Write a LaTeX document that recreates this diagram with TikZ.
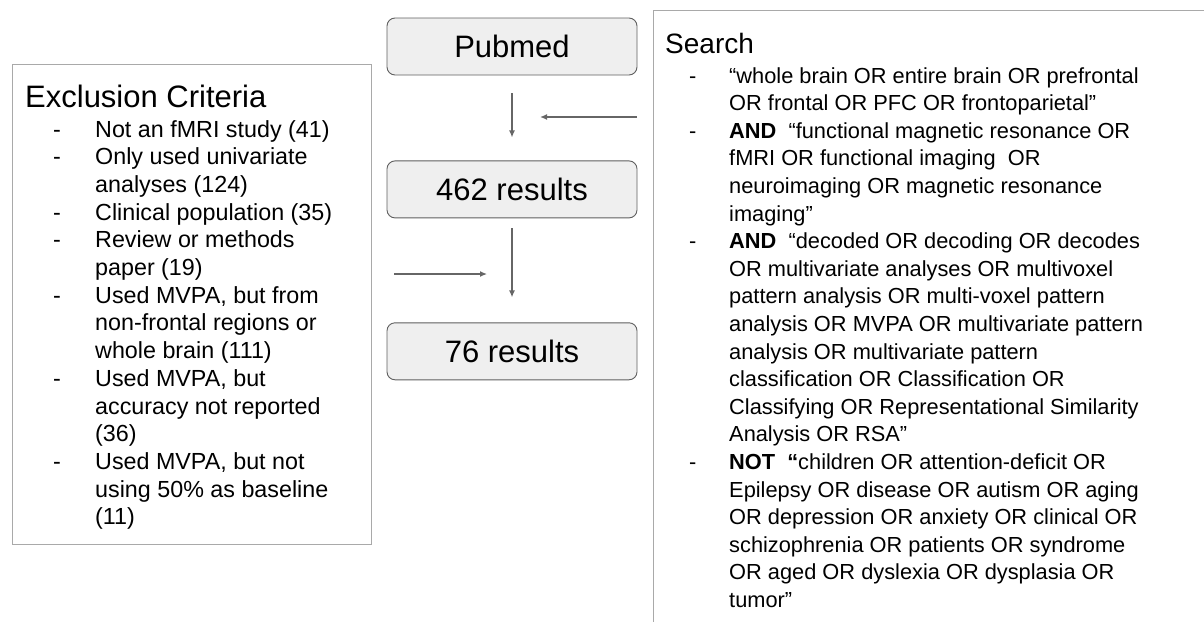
\documentclass[tikz,border=0pt]{standalone}
\usepackage{fontspec}
\setmainfont{Liberation Sans}
\usetikzlibrary{arrows.meta,positioning}

\definecolor{stagefill}{HTML}{EFEFEF}
\definecolor{stageedge}{HTML}{5F5F5F}
\definecolor{flowgray}{HTML}{666666}
\definecolor{framegray}{HTML}{A9A9A9}

\newcommand{\headfont}{\fontsize{31}{37}\selectfont}
\newcommand{\searchhead}{\fontsize{28}{34}\selectfont}
\newcommand{\exclfont}{\fontsize{23.3}{27.7}\selectfont}
\newcommand{\searchfont}{\fontsize{21.8}{27.6}\selectfont}

\begin{document}
\begin{tikzpicture}[x=1pt, y=-1pt,
			stage/.style={rectangle, rounded corners=8pt, draw=stageedge, fill=stagefill, line width=0.9pt, minimum width=250pt, minimum height=57pt, font=\headfont},
			frame/.style={draw=framegray, line width=1pt},
			flow/.style={-{Latex[length=7pt,width=6pt]}, draw=flowgray, line width=1.3pt}
		]
		\clip (0,0) rectangle (1204,621);

		% Stages
		\node[stage] (pubmed) at (512,46.5) {Pubmed};
		\node[stage, below=85pt of pubmed] (res462) {462 results};
		\node[stage, below=104pt of res462] (res76) {76 results};

		% Frames
		\draw[frame] (12,64) rectangle (371,544);
		\draw[frame] (653,10) rectangle (1230,660);

		% Exclusion Criteria
		\node[anchor=base west, font=\headfont, inner sep=0pt] (excltitle) at (25,107) {Exclusion Criteria};
		\node[anchor=base west, font=\exclfont, inner sep=0pt] (excllist) at (53,137) {%
			\begin{tabular}[t]{@{}p{42pt}@{}l@{}}
				- & Not an fMRI study (41)\\
				- & Only used univariate\\
				  & analyses (124)\\
				- & Clinical population (35)\\
				- & Review or methods\\
				  & paper (19)\\
				- & Used MVPA, but from\\
				  & non-frontal regions or\\
				  & whole brain (111)\\
				- & Used MVPA, but\\
				  & accuracy not reported\\
				  & (36)\\
				- & Used MVPA, but not\\
				  & using 50\% as baseline\\
				  & (11)
			\end{tabular}};

		% Search terms
		\node[anchor=base west, font=\searchhead, inner sep=0pt] (searchtitle) at (665,53) {Search};
		\node[anchor=base west, font=\searchfont, inner sep=0pt] (searchlist) at (689,83) {%
			\begin{tabular}[t]{@{}p{40pt}@{}l@{}}
				- & “whole brain OR entire brain OR prefrontal\\
				  & OR frontal OR PFC OR frontoparietal”\\
				- & \textbf{AND}\ \ “functional magnetic resonance OR\\
				  & fMRI OR functional imaging\ \ OR\\
				  & neuroimaging OR magnetic resonance\\
				  & imaging”\\
				- & \textbf{AND}\ \ “decoded OR decoding OR decodes\\
				  & OR multivariate analyses OR multivoxel\\
				  & pattern analysis OR multi-voxel pattern\\
				  & analysis OR MVPA OR multivariate pattern\\
				  & analysis OR multivariate pattern\\
				  & classification OR Classification OR\\
				  & Classifying OR Representational Similarity\\
				  & Analysis OR RSA”\\
				- & \textbf{NOT\ \ “}children OR attention-deficit OR\\
				  & Epilepsy OR disease OR autism OR aging\\
				  & OR depression OR anxiety OR clinical OR\\
				  & schizophrenia OR patients OR syndrome\\
				  & OR aged OR dyslexia OR dysplasia OR\\
				  & tumor”
			\end{tabular}};

		% Free arrow ends
		\coordinate (searchout) at (637,117);
		\coordinate (searchin) at (540,117);
		\coordinate (exclout) at (394,274);
		\coordinate (exclin) at (487,274);

		% Connections
		\draw[flow, shorten <=18pt, shorten >=23pt] (pubmed) -- (res462);
		\draw[flow, shorten <=10pt, shorten >=25pt] (res462) -- (res76);
		\draw[flow] (searchout) -- (searchin);
		\draw[flow] (exclout) -- (exclin);

	\end{tikzpicture}
\end{document}
